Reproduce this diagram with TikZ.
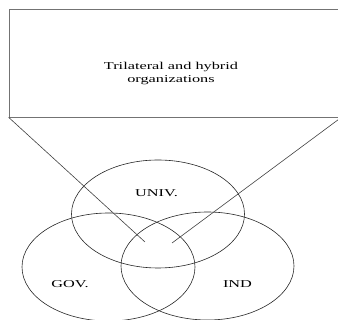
\documentclass[tikz,border=0pt]{standalone}
\usepackage{fontspec}
\setmainfont{Liberation Serif}
\newfontfamily\widefont[FakeStretch=1.55]{Liberation Serif}
\usetikzlibrary{shapes.geometric}
\begin{document}
\begin{tikzpicture}[x=1pt,y=-1pt,
  sector/.style={ellipse, draw=black!85, line width=0.6pt, inner sep=0pt, minimum width=173pt, minimum height=108pt},
  lbl/.style={font=\widefont\fontsize{10.5}{13}\selectfont, inner sep=0pt, align=center},
  link/.style={draw=black!75, line width=0.6pt}]
\useasboundingbox (0,0) rectangle (338,320);
\clip (0,0) rectangle (338,320);
\node[draw=black!55, line width=0.7pt, minimum width=332pt, minimum height=108pt, inner sep=0pt] (org) at (175,63) {};
\node[lbl] (orgtext) at (171,73.5) {Trilateral and hybrid\\organizations};
\node[sector] (univ) at (158,214) {};
\node[sector] (gov) at (108.5,267) {};
\node[sector] (ind) at (207.5,266) {};
\node[lbl] (univtext) at (156.5,193) {UNIV.};
\node[lbl] (govtext) at (70,284.5) {GOV.};
\node[lbl] (indtext) at (237.5,284.5) {IND};
\coordinate (endl) at (145,242);
\coordinate (endr) at (172,243);
\draw[link] (org.south west) -- (endl);
\draw[link] (org.south east) -- (endr);
\end{tikzpicture}
\end{document}
